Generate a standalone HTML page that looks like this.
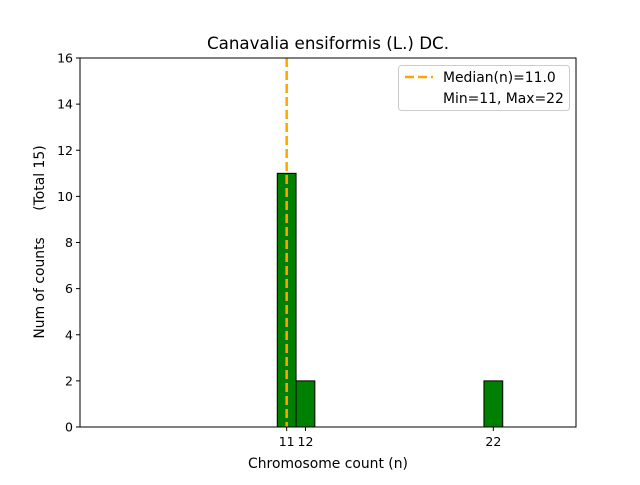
<!DOCTYPE html>
<html><head><meta charset="utf-8"><style>body{margin:0;background:#fff}svg{font-family:"DejaVu Sans","Liberation Sans",sans-serif}</style></head>
<body>
<svg id="c" width="640" height="480"></svg>
<script>
const categories=[11,12,22];
const counts=[11,2,2];
const yTicks=[0,2,4,6,8,10,12,14,16];
const xTicks=[11,12,22];
const medianValue=11;
const L=80,R=576,T=58,B=427,xMin=0,xMax=26.4,yMax=16;
const X=v=>L+(v-xMin)/(xMax-xMin)*(R-L);
const Y=v=>B-v/yMax*(B-T);
const s=document.getElementById('c');const NS='http://www.w3.org/2000/svg';
function mk(t,a,txt){const e=document.createElementNS(NS,t);for(const k in a)e.setAttribute(k,a[k]);if(txt!=null)e.textContent=txt;s.appendChild(e);return e;}
categories.forEach((c,i)=>{const e=mk('rect',{x:X(c-0.5),y:Y(counts[i]),width:X(c+0.5)-X(c-0.5),height:B-Y(counts[i]),fill:'#008000',stroke:'#000','stroke-width':1});

});
const m=mk('line',{x1:X(medianValue),x2:X(medianValue),y1:T,y2:B,stroke:'#ffa500','stroke-width':2.5,'stroke-dasharray':'9,4'});


const f=mk('rect',{x:L,y:T,width:R-L,height:B-T,fill:'none',stroke:'#000','stroke-width':1});


yTicks.forEach(v=>{mk('line',{x1:L-4,x2:L,y1:Y(v),y2:Y(v),stroke:'#000'});
const t=mk('text',{x:L-7,y:Y(v)+4.5,'text-anchor':'end','font-size':12.5},v);

});
xTicks.forEach(v=>{mk('line',{x1:X(v),x2:X(v),y1:B,y2:B+4,stroke:'#000'});
const t=mk('text',{x:X(v),y:B+19,'text-anchor':'middle','font-size':12.5},v);

});
</script>
<svg width="640" height="480" style="position:absolute;left:0;top:0">
<text x="328" y="49" text-anchor="middle" font-size="16.7">Canavalia ensiformis (L.) DC.</text>
<text x="328" y="468" text-anchor="middle" font-size="13.9">Chromosome count (n)</text>
<text transform="translate(44,242) rotate(-90)" text-anchor="middle" font-size="13.9" xml:space="preserve" style="white-space:pre">Num of counts      (Total 15)</text>
<g>
<rect x="398.5" y="65.5" width="171" height="45" rx="3" fill="#fff" stroke="#ccc"/>
<line x1="405" x2="433" y1="77" y2="77" stroke="#ffa500" stroke-width="2.5" stroke-dasharray="9,4"/>
<text x="443" y="82" font-size="13.9">Median(n)=11.0</text>
<text x="443" y="103" font-size="13.9">Min=11, Max=22</text>
</g>
</svg>
</body></html>
